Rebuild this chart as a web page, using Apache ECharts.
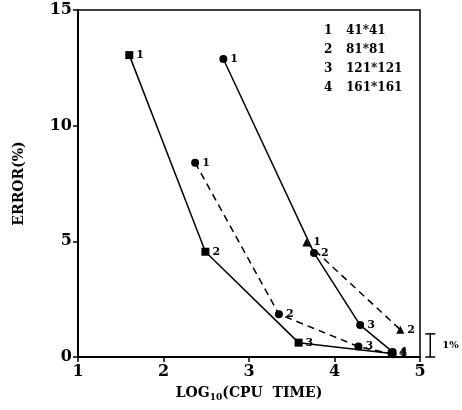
<!DOCTYPE html>
<html><head><meta charset="utf-8">
<script src="https://cdn.jsdelivr.net/npm/echarts@6/dist/echarts.min.js"></script>
<style>html,body{margin:0;padding:0;background:#fff}#c{width:462px;height:410px}</style>
</head><body><div id="c"></div>
<script>
const xTicks = [1, 2, 3, 4, 5];
const yTicks = [0, 5, 10, 15];
const pointLabels = ['1', '2', '3', '4'];
const seriesA = [[1.60, 13.05], [2.49, 4.55], [3.58, 0.62], [4.67, 0.15]];
const seriesB = [[2.37, 8.40], [3.35, 1.85], [4.28, 0.45], [4.68, 0.12]];
const seriesC = [[2.70, 12.88], [3.76, 4.50], [4.30, 1.38], [4.68, 0.22]];
const seriesD = [[3.67, 4.95], [4.77, 1.18]];
const legendNums = ['1', '2', '3', '4'];
const legendTexts = ['41*41', '81*81', '121*121', '161*161'];
const scaleBar = [[5.12, 0], [5.12, 1]];

const FONT = '"DejaVu Serif", "Liberation Serif", serif';
function mk(name, data, symbol, dashed, labelIdx) {
  return {
    name, type: 'line', data, symbol, symbolSize: 8,
    lineStyle: { color: '#000', width: 1.5, type: dashed ? [7, 5] : 'solid' },
    itemStyle: { color: '#000' },
    label: {
      show: true, position: 'right', distance: 3,
      formatter: p => (labelIdx || pointLabels)[p.dataIndex],
      fontFamily: FONT, fontWeight: 'bold', fontSize: 11, color: '#000'
    },
    animation: false, z: 3
  };
}
const chart = echarts.init(document.getElementById('c'));
chart.setOption({
  backgroundColor: '#fff',
  animation: false,
  grid: { left: 78, right: 42, top: 10, bottom: 53, show: true, borderColor: '#000', borderWidth: 1.5, backgroundColor: 'transparent' },
  xAxis: {
    type: 'value', min: 1, max: 5, interval: 1,
    name: '{a|LOG}{s|10}{a|(CPU  TIME)}', nameLocation: 'middle', nameGap: 28,
    nameTextStyle: { rich: {
      a: { fontFamily: FONT, fontWeight: 'bold', fontSize: 14, color: '#000' },
      s: { fontFamily: FONT, fontWeight: 'bold', fontSize: 9, color: '#000', verticalAlign: 'bottom', padding: [8, 0, 0, 0] }
    } },
    axisLine: { onZero: false, lineStyle: { color: '#000', width: 2 } },
    axisTick: { inside: false, length: 5, lineStyle: { color: '#000', width: 1.5 } },
    axisLabel: { fontFamily: FONT, fontWeight: 'bold', fontSize: 16, color: '#000', margin: 7,
      formatter: v => xTicks.includes(v) ? String(v) : '' },
    splitLine: { show: false }
  },
  yAxis: {
    type: 'value', min: 0, max: 15, interval: 5,
    name: 'ERROR(%)', nameLocation: 'middle', nameGap: 52, nameRotate: 90,
    nameTextStyle: { fontFamily: FONT, fontWeight: 'bold', fontSize: 14, color: '#000' },
    axisLine: { onZero: false, lineStyle: { color: '#000', width: 2 } },
    axisTick: { inside: false, length: 5, lineStyle: { color: '#000', width: 1.5 } },
    axisLabel: { fontFamily: FONT, fontWeight: 'bold', fontSize: 16, color: '#000', margin: 6,
      formatter: v => yTicks.includes(v) ? String(v) : '' },
    splitLine: { show: false }
  },
  series: [
    mk('A', seriesA, 'rect', false),
    mk('B', seriesB, 'circle', true),
    mk('C', seriesC, 'circle', false),
    mk('D', seriesD, 'triangle', true, ['1', '2'])
  ]
});
const p0 = chart.convertToPixel({ gridIndex: 0 }, scaleBar[0]);
const p1 = chart.convertToPixel({ gridIndex: 0 }, scaleBar[1]);
const ls = { stroke: '#000', lineWidth: 1.5 };
const graphics = [];
legendNums.forEach((n, i) => {
  graphics.push({ type: 'text', x: 324, y: 25 + i * 19, style: { text: n, font: 'bold 12px ' + FONT, fill: '#000' } });
  graphics.push({ type: 'text', x: 346, y: 25 + i * 19, style: { text: legendTexts[i], font: 'bold 12px ' + FONT, fill: '#000' } });
});
graphics.push(
  { type: 'line', shape: { x1: p0[0], y1: p0[1], x2: p1[0], y2: p1[1] }, style: ls },
  { type: 'line', shape: { x1: p0[0] - 5, y1: p0[1], x2: p0[0] + 5, y2: p0[1] }, style: ls },
  { type: 'line', shape: { x1: p1[0] - 5, y1: p1[1], x2: p1[0] + 5, y2: p1[1] }, style: ls },
  { type: 'text', x: p0[0] + 12, y: (p0[1] + p1[1]) / 2, style: { text: '1%', font: 'bold 10px ' + FONT, fill: '#000', verticalAlign: 'middle' } }
);
chart.setOption({ graphic: graphics });
</script></body></html>
